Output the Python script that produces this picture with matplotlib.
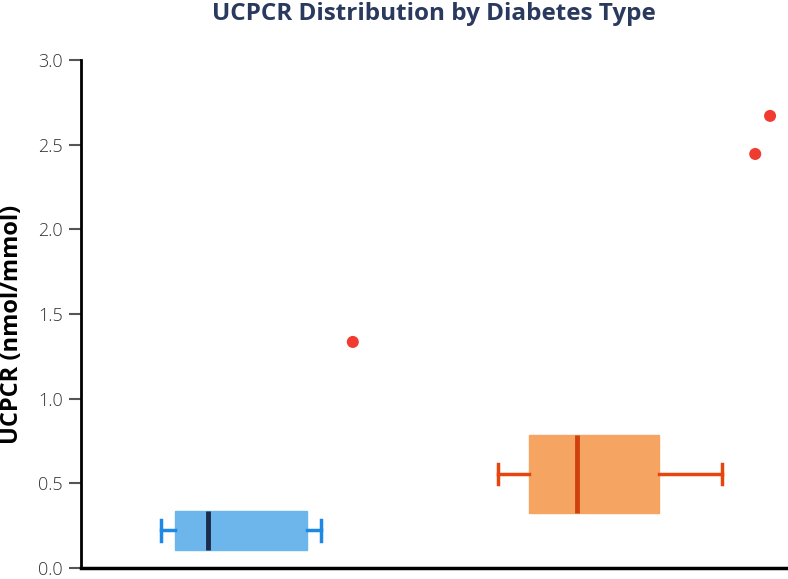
import matplotlib
matplotlib.use("Agg")
import matplotlib.pyplot as plt

# Data
groups = ["Type 1", "Type 2"]
# horizontal-position statistics (hidden horizontal scale, 0-100)
whisker_lo = [11.3, 59.1]
q1 = [13.3, 63.5]
median = [18.0, 70.3]
q3 = [32.0, 81.9]
whisker_hi = [34.0, 90.8]
# vertical placement of boxes on UCPCR axis (nmol/mmol)
box_center = [0.222, 0.555]
box_height = [0.232, 0.46]
# outliers: (horizontal position, UCPCR)
outlier_x = [[38.5], [95.5, 97.6]]
outlier_y = [[1.335], [2.445, 2.67]]

fill_colors = ["#6db6ec", "#f5a462"]
line_colors = ["#1e88e5", "#e6450f"]
median_colors = ["#1b2b4b", "#d0400c"]
outlier_color = "#f03c30"

fig = plt.figure(figsize=(7.88, 5.79), dpi=100)
ax = fig.add_axes([81/788, (579-568)/579, (787-81)/788, (568-60)/579])

stats = []
for i in range(len(groups)):
    stats.append(dict(med=median[i], q1=q1[i], q3=q3[i],
                      whislo=whisker_lo[i], whishi=whisker_hi[i], fliers=[]))

for i in range(len(groups)):
    ax.bxp([stats[i]], positions=[box_center[i]], widths=[box_height[i]],
           vert=False, patch_artist=True, showfliers=False,
           boxprops=dict(facecolor=fill_colors[i], edgecolor=fill_colors[i], linewidth=1),
           whiskerprops=dict(color=line_colors[i], linewidth=2.5),
           capprops=dict(color=line_colors[i], linewidth=2.5),
           medianprops=dict(color=median_colors[i], linewidth=3.5),
           capwidths=[0.12], manage_ticks=False)
    ax.scatter(outlier_x[i], outlier_y[i], s=75, color=outlier_color, zorder=5,
               edgecolors="none")

ax.set_xlim(0, 100)
ax.set_ylim(0, 3.0)
ax.set_yticks([0, 0.5, 1.0, 1.5, 2.0, 2.5, 3.0])
ax.set_yticklabels(["0.0", "0.5", "1.0", "1.5", "2.0", "2.5", "3.0"])
ax.set_xticks([])
for s in ["top", "right"]:
    ax.spines[s].set_visible(False)
ax.spines["left"].set_linewidth(2)
ax.spines["bottom"].set_linewidth(2.5)
ax.tick_params(axis="y", length=9, width=1.5, color="#555555", labelsize=13,
               labelcolor="#333333", pad=4)
for lab in ax.get_yticklabels():
    lab.set_fontfamily("Open Sans")
    lab.set_fontweight("light")

fig.text(12/788, 1 - 324/579, "UCPCR (nmol/mmol)", rotation=90, ha="center", va="center",
         fontsize=17, fontweight="bold", family="Open Sans", color="#000000")
fig.text(0.55, 0.975, "UCPCR Distribution by Diabetes Type", ha="center", va="center",
         fontsize=17.5, fontweight="bold", family="Open Sans", color="#2a3a5e")

fig.savefig("out.png", dpi=100)
